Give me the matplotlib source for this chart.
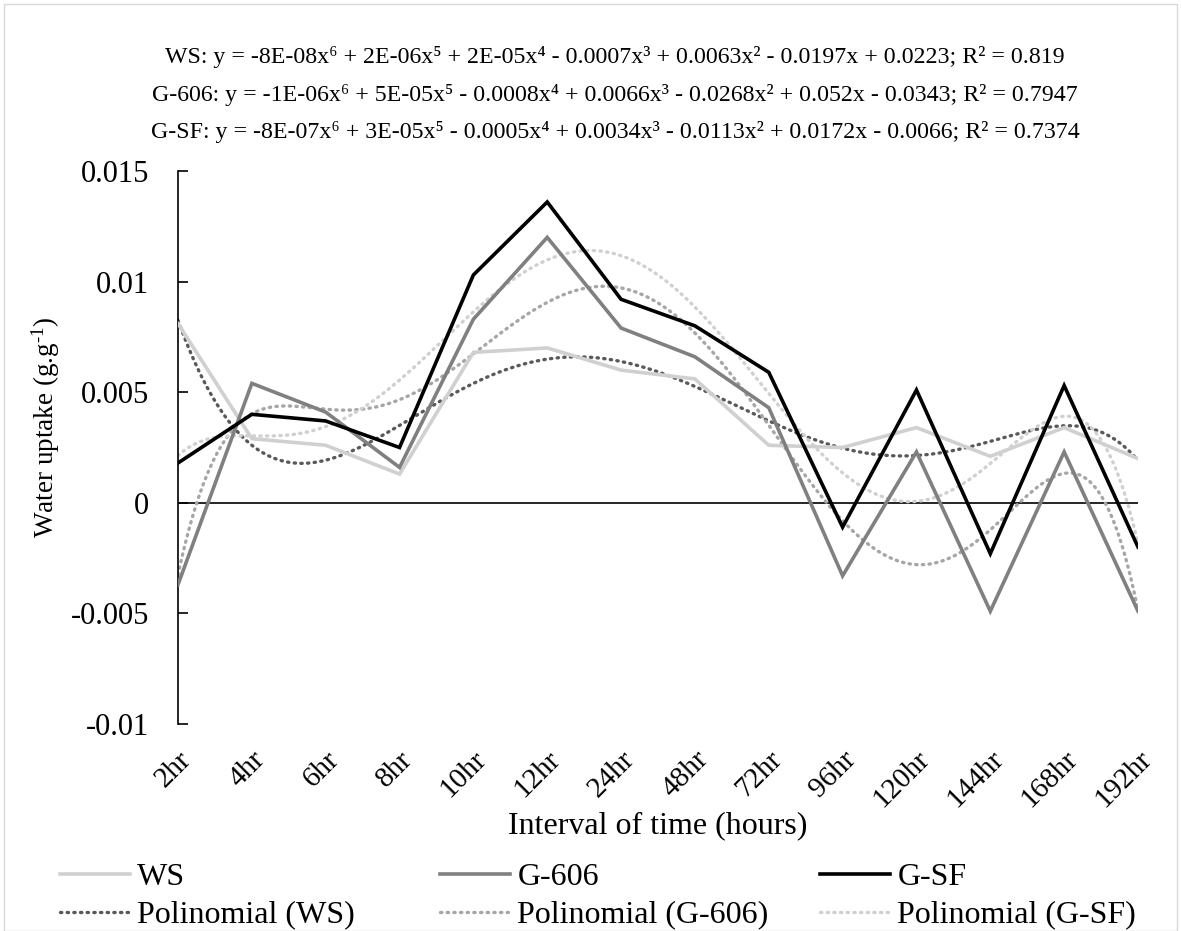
import numpy as np
import matplotlib.pyplot as plt
from matplotlib.patches import Rectangle

plt.rcParams['font.family'] = ['Liberation Serif', 'DejaVu Serif']
plt.rcParams['mathtext.fontset'] = 'custom'
plt.rcParams['mathtext.rm'] = 'Liberation Serif'
plt.rcParams['mathtext.it'] = 'Liberation Serif:italic'

# time intervals (categories)
labels = ['2hr', '4hr', '6hr', '8hr', '10hr', '12hr', '24hr', '48hr',
          '72hr', '96hr', '120hr', '144hr', '168hr', '192hr']

# water uptake (g.g-1)
ws = [0.0081, 0.0029, 0.0026, 0.0013, 0.0068, 0.0070, 0.0060, 0.0056,
      0.0026, 0.0025, 0.0034, 0.0021, 0.0034, 0.0020]
g606 = [-0.0037, 0.0054, 0.0041, 0.0016, 0.0083, 0.0120, 0.0079, 0.0066,
        0.0043, -0.0033, 0.0023, -0.0049, 0.0023, -0.0049]
gsf = [0.0018, 0.0040, 0.0037, 0.0025, 0.0103, 0.0136, 0.0092, 0.0080,
       0.0059, -0.0011, 0.0051, -0.0023, 0.0053, -0.0020]

equations = [
    'WS: y = -8E-08x⁶ + 2E-06x⁵ + 2E-05x⁴ - 0.0007x³ + 0.0063x² - 0.0197x + 0.0223; R² = 0.819',
    'G-606: y = -1E-06x⁶ + 5E-05x⁵ - 0.0008x⁴ + 0.0066x³ - 0.0268x² + 0.052x - 0.0343; R² = 0.7947',
    'G-SF: y = -8E-07x⁶ + 3E-05x⁵ - 0.0005x⁴ + 0.0034x³ - 0.0113x² + 0.0172x - 0.0066; R² = 0.7374',
]

W, H = 1181, 931
fig = plt.figure(figsize=(W / 100, H / 100), dpi=100)
fig.patches.append(Rectangle((0.003, 0.0), 0.994, 0.996, transform=fig.transFigure,
                             fill=False, edgecolor='#d9d9d9', linewidth=1))
ax = fig.add_axes([178 / W, 1 - 724 / H, 960 / W, 553 / H])

x = np.arange(len(labels))
xs = np.linspace(1, len(labels), 300)

series = [('WS', ws, '#d0d0d0', '#595959'),
          ('G-606', g606, '#808080', '#a6a6a6'),
          ('G-SF', gsf, '#000000', '#d0d0d0')]

legend_x = [60, 440, 820]
for (name, vals, col, tcol), lx in zip(series, legend_x):
    ln, = ax.plot(x, vals, color=col, lw=2.6, solid_joinstyle='miter', zorder=3)
    # 6th order polynomial trendline like Excel
    coef = np.polyfit(np.arange(1, len(vals) + 1), vals, 6)
    tl, = ax.plot(xs - 1, np.polyval(coef, xs), color=tcol, lw=2.4,
                  linestyle=(0, (0.4, 1.6)), dash_capstyle='round', zorder=2)
    fig.legend([ln, tl], [name, 'Polinomial (%s)' % name], loc='upper left',
               bbox_to_anchor=(lx / W, 1 - 863 / H), frameon=False, fontsize=23,
               handlelength=2.2, handletextpad=0.22, labelspacing=0.25,
               borderpad=0.0, borderaxespad=0.0)

ax.axhline(0, color='black', lw=1.2, zorder=1)
ax.set_xlim(0, len(labels) - 1)
ax.set_ylim(-0.01, 0.015)
ax.set_yticks([-0.01, -0.005, 0, 0.005, 0.01, 0.015])
ax.set_yticklabels(['-0.01', '-0.005', '0', '0.005', '0.01', '0.015'], fontsize=22)
ax.tick_params(axis='y', direction='in', length=7, width=1.2, pad=21)
ax.set_xticks(x)
ax.set_xticklabels(labels, rotation=45, ha='right', va='top',
                   rotation_mode='anchor', fontsize=21)
ax.tick_params(axis='x', length=0, pad=16)
for s in ['top', 'right', 'bottom']:
    ax.spines[s].set_visible(False)
ax.spines['left'].set_linewidth(1.2)

ax.set_ylabel(r'Water uptake (g.g$^{\text{-1}}$)', fontsize=19.5)
ax.yaxis.set_label_coords(-0.121, 0.537)
ax.set_xlabel('Interval of time (hours)', fontsize=23)
ax.xaxis.set_label_coords(0.5, -(826 - 724) / 553)
ax.xaxis.label.set_va('center')

for i, eq in enumerate(equations):
    fig.text(615 / W, 1 - (57 + 37.5 * i) / H, eq, ha='center', va='center', fontsize=17.2)

fig.savefig('out.png', dpi=100)
